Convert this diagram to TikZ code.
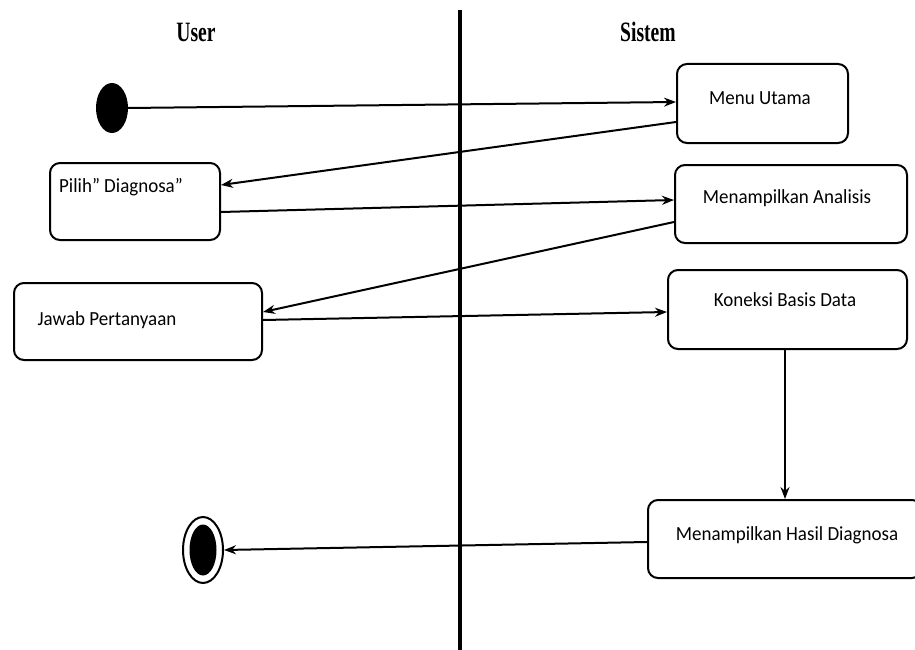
\documentclass[tikz,border=0pt]{standalone}
\usepackage{fontspec}
\setmainfont{Carlito}
\newfontfamily\headfont{Liberation Serif}
\usetikzlibrary{arrows.meta,shapes.geometric}
\begin{document}
\begin{tikzpicture}[x=1pt,y=-1pt,
  act/.style={draw,line width=2pt,rounded corners=10pt,inner sep=0pt},
  lbl/.style={font=\fontsize{20}{22}\selectfont,inner sep=0pt},
  conn/.style={line width=2pt,-{Stealth[length=12pt,width=9pt]}},
  head/.style={font=\headfont\bfseries\fontsize{28}{30}\selectfont}]
\useasboundingbox (0,0) rectangle (915,650);
\node[head] (user) at (196,32) {\scalebox{0.7}[1]{User}};
\node[head] (sis) at (648,32) {\scalebox{0.7}[1]{Sistem}};
\coordinate (lt) at (460,10);
\coordinate (lb) at (460,650);
\draw[line width=3.5pt] (lt) -- (lb);
\node[ellipse,fill=black,minimum width=32pt,minimum height=50pt,inner sep=0pt] (start) at (112,108) {};
\node[act,minimum width=171pt,minimum height=79pt] (menu) at (762.5,103.5) {};
\node[lbl] (menut) at (760,98) {\scalebox{0.95}[1]{Menu Utama}};
\node[act,minimum width=170pt,minimum height=77pt] (pilih) at (135,201.5) {};
\node[lbl] (pilt) at (121,187) {\scalebox{0.95}[1]{Pilih” Diagnosa”}};
\node[act,minimum width=232pt,minimum height=78pt] (anal) at (791,204) {};
\node[lbl] (analt) at (787,198) {\scalebox{0.95}[1]{Menampilkan Analisis}};
\node[act,minimum width=248pt,minimum height=77pt] (jawab) at (138,321.5) {};
\node[lbl] (jawt) at (107,320) {\scalebox{0.95}[1]{Jawab Pertanyaan}};
\node[act,minimum width=239pt,minimum height=79pt] (kon) at (787.5,309.5) {};
\node[lbl] (kont) at (785,300) {\scalebox{0.95}[1]{Koneksi Basis Data}};
\node[act,minimum width=274pt,minimum height=78pt] (hasil) at (785,539) {};
\node[lbl] (hast) at (787,535) {\scalebox{0.95}[1]{Menampilkan Hasil Diagnosa}};
\node[ellipse,draw,line width=2pt,minimum width=40pt,minimum height=66pt,inner sep=0pt] (endo) at (203,550) {};
\node[ellipse,fill=black,minimum width=27pt,minimum height=51pt,inner sep=0pt] (endi) at (203,550) {};
\draw[conn] (start.east) -- (menu.west |- 0,102);
\draw[conn] (menu.west |- 0,122) -- (pilih.east |- 0,185);
\draw[conn] (pilih.east |- 0,212) -- (anal.west |- 0,200);
\draw[conn] (anal.west |- 0,222) -- (jawab.east |- 0,312);
\draw[conn] (jawab.east |- 0,320) -- (kon.west |- 0,312);
\draw[line width=1.2pt,-{Stealth[length=12pt,width=9pt]}] (kon.south -| 785,0) -- (hasil.north -| 785,0);
\draw[conn] (hasil.west |- 0,542) -- (endo.east);
\end{tikzpicture}
\end{document}
